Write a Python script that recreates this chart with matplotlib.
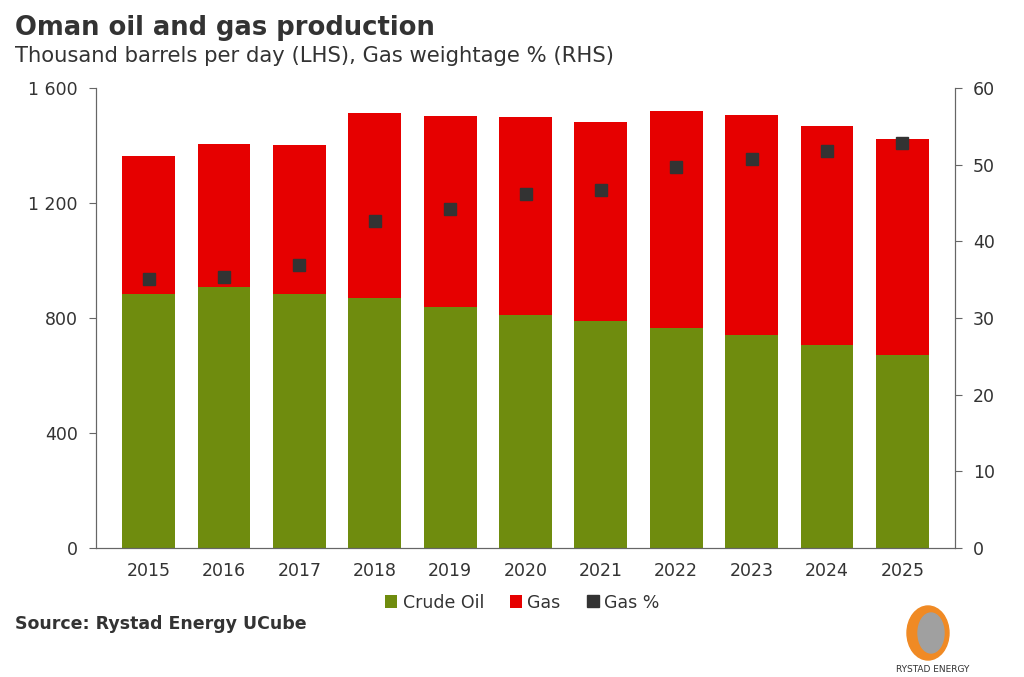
import matplotlib
matplotlib.use('Agg')
import matplotlib.pyplot as plt
from matplotlib.patches import Ellipse

# Données
years = ['2015', '2016', '2017', '2018', '2019', '2020', '2021', '2022', '2023', '2024', '2025']
crude_oil = [883, 908, 883, 870, 838, 810, 790, 765, 741, 706, 671]
total = [1363, 1405, 1402, 1513, 1503, 1499, 1482, 1520, 1506, 1468, 1423]
gas_pct = [35.1, 35.3, 36.9, 42.7, 44.2, 46.2, 46.7, 49.7, 50.7, 51.8, 52.8]
gas = [t - c for t, c in zip(total, crude_oil)]

green = '#6f8c0e'
red = '#e60000'
dark = '#333333'
txt = '#333333'

fig = plt.figure(figsize=(10.24, 6.77), dpi=100)
ax = fig.add_axes([0.09375, 0.1905, 0.8389, 0.6795])
ax2 = ax.twinx()

x = range(len(years))
ax.bar(x, crude_oil, width=0.7, color=green, label='Crude Oil')
ax.bar(x, gas, width=0.7, bottom=crude_oil, color=red, label='Gas')
ax2.plot(x, gas_pct, linestyle='none', marker='s', markersize=8, color=dark, label='Gas %')

ax.set_xlim(-0.7, len(years) - 0.3)
ax.set_ylim(0, 1600)
ax.set_yticks([0, 400, 800, 1200, 1600])
ax.set_yticklabels(['0', '400', '800', '1 200', '1 600'])
ax2.set_ylim(0, 60)
ax2.set_yticks(range(0, 61, 10))
ax.set_xticks(list(x))
ax.set_xticklabels(years)

for a in (ax, ax2):
    a.spines['top'].set_visible(False)
    for s in ('left', 'right', 'bottom'):
        a.spines[s].set_color('#666666')
    a.tick_params(colors=txt, labelsize=12.5, length=5, color='#666666')
ax.tick_params(axis='x', length=0, pad=10)
ax.tick_params(axis='y', pad=8)
ax2.tick_params(axis='y', pad=8)

# Légende
h1, l1 = ax.get_legend_handles_labels()
h2, l2 = ax2.get_legend_handles_labels()
fig.legend(h1 + h2, l1 + l2, loc='center', bbox_to_anchor=(0.51, 0.11), ncol=3,
           frameon=False, fontsize=12.5, handlelength=0.7, handleheight=0.7,
           handletextpad=0.3, columnspacing=1.5, labelcolor=txt)

# Titres
fig.text(0.015, 0.958, 'Oman oil and gas production', fontsize=18.6, fontweight='bold',
         color=txt, va='center')
fig.text(0.015, 0.918, 'Thousand barrels per day (LHS), Gas weightage % (RHS)',
         fontsize=15.2, color=txt, va='center')
fig.text(0.015, 0.078, 'Source: Rystad Energy UCube', fontsize=12.5, fontweight='bold',
         color=txt, va='center')

# Logo simplifié (coordonnées en pixels)
lax = fig.add_axes([895 / 1024, 0, 75 / 1024, 77 / 677])
lax.set_xlim(895, 970)
lax.set_ylim(677, 600)
lax.add_patch(Ellipse((928, 633), 42, 54, color='#f08a24'))
lax.add_patch(Ellipse((931, 633), 26, 40, color='#a0a0a0'))
lax.text(933, 670, 'RYSTAD ENERGY', ha='center', va='center', fontsize=6.5, color=txt)
lax.axis('off')

fig.savefig('out.png', dpi=100)
